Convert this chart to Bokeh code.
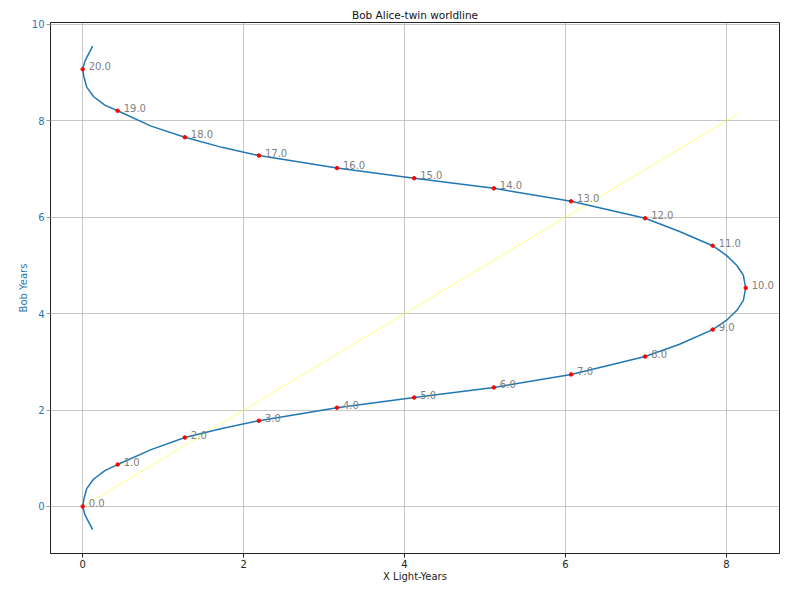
from bokeh.plotting import figure
from bokeh.models import ColumnDataSource, FixedTicker
from bokeh.embed import file_html
from bokeh.resources import INLINE

# Alice proper-time labels at the marked events
tau_labels = ["0.0", "1.0", "2.0", "3.0", "4.0", "5.0", "6.0", "7.0", "8.0", "9.0", "10.0",
              "11.0", "12.0", "13.0", "14.0", "15.0", "16.0", "17.0", "18.0", "19.0", "20.0"]
# marked events: X light-years and Bob years
pts_x = [0.0, 0.435, 1.27, 2.19, 3.16, 4.12, 5.11, 6.07, 6.99, 7.83, 8.24,
         7.83, 6.99, 6.07, 5.11, 4.12, 3.16, 2.19, 1.27, 0.435, 0.0]
pts_y = [0.0, 0.87, 1.43, 1.78, 2.05, 2.26, 2.47, 2.74, 3.11, 3.67, 4.535,
         5.41, 5.98, 6.33, 6.60, 6.81, 7.02, 7.28, 7.66, 8.21, 9.07]

# worldline curve
curve_x = [0.124, 0.087, 0.03, 0.0, 0.016, 0.05, 0.137, 0.28, 0.435, 0.85, 1.27, 1.73,
           2.19, 3.16, 4.12, 5.11, 6.07, 6.99, 7.41, 7.83, 8.0, 8.13, 8.21, 8.24,
           8.21, 8.13, 8.0, 7.83, 7.41, 6.99, 6.07, 5.11, 4.12, 3.16, 2.19, 1.73,
           1.27, 0.85, 0.435, 0.28, 0.137, 0.05, 0.016, 0.0, 0.03, 0.087, 0.124]
curve_y = [-0.48, -0.36, -0.18, 0.0, 0.16, 0.37, 0.57, 0.75, 0.87, 1.18, 1.43, 1.62,
           1.78, 2.05, 2.26, 2.47, 2.74, 3.11, 3.36, 3.67, 3.86, 4.07, 4.27, 4.535,
           4.80, 5.00, 5.21, 5.41, 5.71, 5.98, 6.33, 6.60, 6.81, 7.02, 7.28, 7.45,
           7.66, 7.89, 8.21, 8.32, 8.50, 8.70, 8.91, 9.07, 9.25, 9.43, 9.55]

# light line
light_x = [0.0, 8.15]
light_y = [0.0, 8.15]

x_ticks = [0, 2, 4, 6, 8]
y_ticks = [0, 2, 4, 6, 8, 10]

FONT = "DejaVu Sans"
BLUE = "#1f77b4"

p = figure(width=800, height=601, x_range=(-0.4, 8.66), y_range=(-0.975, 10.04),
           output_backend="svg", toolbar_location=None, title="Bob Alice-twin worldline",
           min_border_left=50, min_border_right=21, min_border_top=22, min_border_bottom=48)

p.title.align = "center"
p.title.vertical_align = "middle"
p.title.text_font = FONT
p.title.text_font_size = "10.5px"
p.title.text_font_style = "normal"
p.title.text_color = "#111111"
p.title.standoff = 2
p.title.offset = 0

p.outline_line_color = "#222222"
p.outline_line_width = 1
p.outline_line_alpha = 1

p.xaxis.ticker = FixedTicker(ticks=x_ticks)
p.yaxis.ticker = FixedTicker(ticks=y_ticks)
for ax in (p.xaxis[0], p.yaxis[0]):
    ax.major_label_text_font = FONT
    ax.major_label_text_font_size = "10px"
    ax.axis_label_text_font = FONT
    ax.axis_label_text_font_size = "10px"
    ax.axis_label_text_font_style = "normal"
    ax.major_tick_out = 4
    ax.major_tick_in = 0
    ax.minor_tick_out = 0
    ax.minor_tick_in = 0
    ax.major_label_standoff = 2
    ax.axis_label_standoff = 0
    ax.axis_line_color = "#222222"

p.xaxis.axis_label = "X Light-Years"
p.xaxis.major_label_text_color = "#222222"
p.xaxis.axis_label_text_color = "#222222"
p.xaxis.major_tick_line_color = "#222222"
p.yaxis.axis_label = "Bob Years"
p.yaxis.axis_label_text_color = BLUE
p.yaxis.major_label_text_color = BLUE
p.yaxis.major_tick_line_color = "#999999"

p.grid.grid_line_color = "#b0b0b0"
p.grid.grid_line_alpha = 0.7
p.grid.grid_line_width = 1

p.line(light_x, light_y, line_color="yellow", line_alpha=0.5, line_width=1)
p.line(curve_x, curve_y, line_color=BLUE, line_width=1.5)

src = ColumnDataSource(dict(x=pts_x, y=pts_y, t=tau_labels))
p.scatter("x", "y", source=src, marker="circle", size=3.5, color="red")
p.text("x", "y", text="t", source=src, x_offset=6, y_offset=-3,
       text_baseline="middle", text_align="left", text_font_size="10px",
       text_color="gray", text_font={"value": FONT})

open("out.html", "w").write(file_html(p, INLINE))
